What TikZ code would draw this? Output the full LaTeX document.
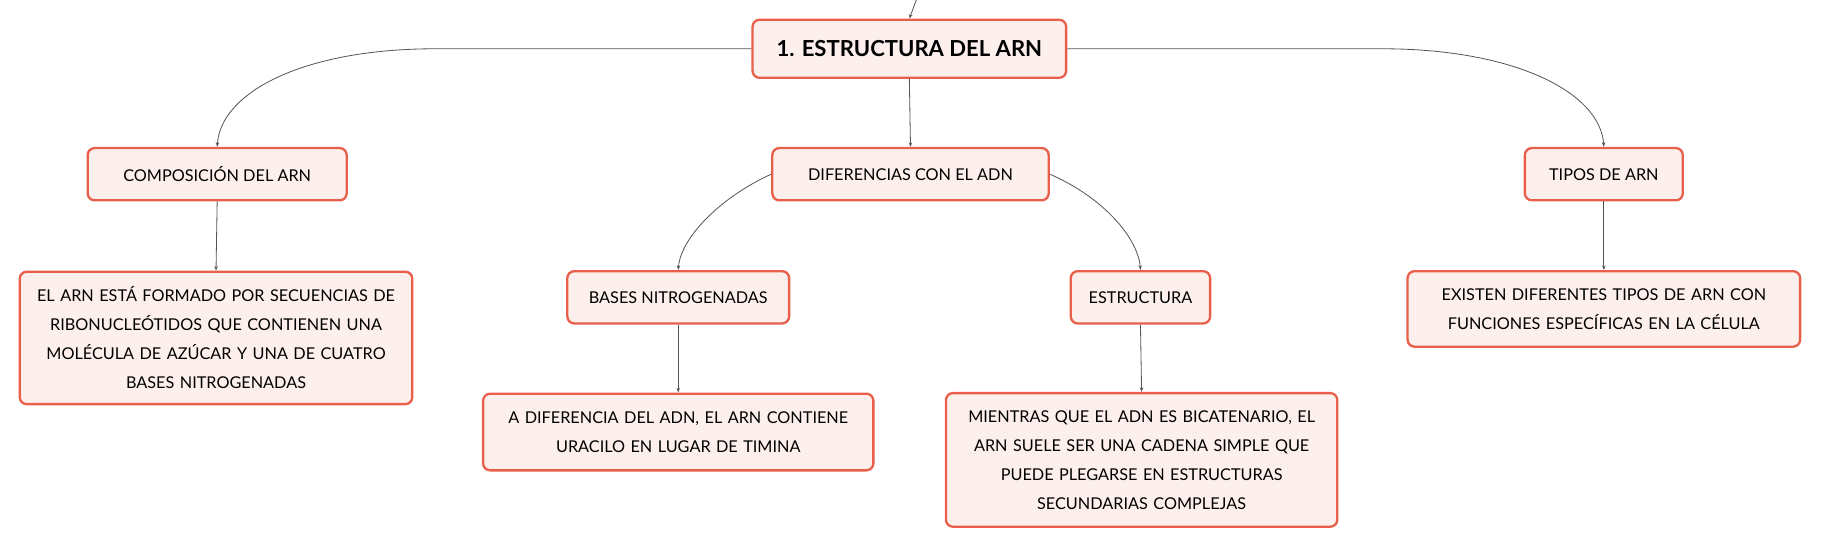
\documentclass[tikz,border=0pt]{standalone}
\usepackage{fontspec}
\setmainfont{Lato}
\usetikzlibrary{arrows.meta}
\definecolor{boxfill}{HTML}{FDF0EC}
\definecolor{boxline}{HTML}{E8604C}
\definecolor{edge}{HTML}{555555}
\begin{document}
\begin{tikzpicture}[x=1pt,y=-1pt,
  box/.style={draw=boxline,line width=2pt,fill=boxfill,rounded corners=6pt,align=center,inner sep=0pt,font=\fontsize{14}{25}\selectfont},
  conn/.style={draw=edge,line width=0.7pt,-{Stealth[length=4pt,width=3pt]}}]
\useasboundingbox (0,0) rectangle (1568,472.7);
\node[box,minimum width=270pt,minimum height=50pt,font=\fontsize{19}{23}\selectfont\bfseries] (main) at (783,42) {1. ESTRUCTURA DEL ARN};
\node[box,minimum width=223pt,minimum height=45pt] (comp) at (187,150) {COMPOSICIÓN DEL ARN};
\node[box,minimum width=238pt,minimum height=45pt] (dif) at (784,150) {DIFERENCIAS CON EL ADN};
\node[box,minimum width=136pt,minimum height=45pt] (tipos) at (1381,150) {TIPOS DE ARN};
\node[box,minimum width=338pt,minimum height=114pt,text width=330pt] (compd) at (186,291) {EL ARN ESTÁ FORMADO POR SECUENCIAS DE\\RIBONUCLEÓTIDOS QUE CONTIENEN UNA\\MOLÉCULA DE AZÚCAR Y UNA DE CUATRO\\BASES NITROGENADAS};
\node[box,minimum width=191pt,minimum height=45pt] (bases) at (584,256) {BASES NITROGENADAS};
\node[box,minimum width=120pt,minimum height=45pt] (estr) at (982,256) {ESTRUCTURA};
\node[box,minimum width=338pt,minimum height=65pt,text width=330pt] (tiposd) at (1381,266) {EXISTEN DIFERENTES TIPOS DE ARN CON\\FUNCIONES ESPECÍFICAS EN LA CÉLULA};
\node[box,minimum width=336pt,minimum height=66pt,text width=330pt] (basesd) at (584,372) {A DIFERENCIA DEL ADN, EL ARN CONTIENE\\URACILO EN LUGAR DE TIMINA};
\node[box,minimum width=337pt,minimum height=115pt,text width=330pt] (estrd) at (983,396) {MIENTRAS QUE EL ADN ES BICATENARIO, EL\\ARN SUELE SER UNA CADENA SIMPLE QUE\\PUEDE PLEGARSE EN ESTRUCTURAS\\SECUNDARIAS COMPLEJAS};
\coordinate (top) at (789,0);
\draw[conn] (top) -- (main.north);
\draw[conn] (main.west) -- (375,42) .. controls (260,42) and (190,80) .. (comp.north);
\draw[conn] (main.east) -- (1190,42) .. controls (1305,42) and (1378,80) .. (tipos.north);
\draw[conn] (main.south) -- (dif.north);
\draw[conn] (dif.west) .. controls (620,170) and (586,205) .. (bases.north);
\draw[conn] (dif.east) .. controls (950,170) and (980,205) .. (estr.north);
\draw[conn] (comp.south) -- (compd.north);
\draw[conn] (tipos.south) -- (tiposd.north);
\draw[conn] (bases.south) -- (basesd.north);
\draw[conn] (estr.south) -- (estrd.north);
\end{tikzpicture}
\end{document}
